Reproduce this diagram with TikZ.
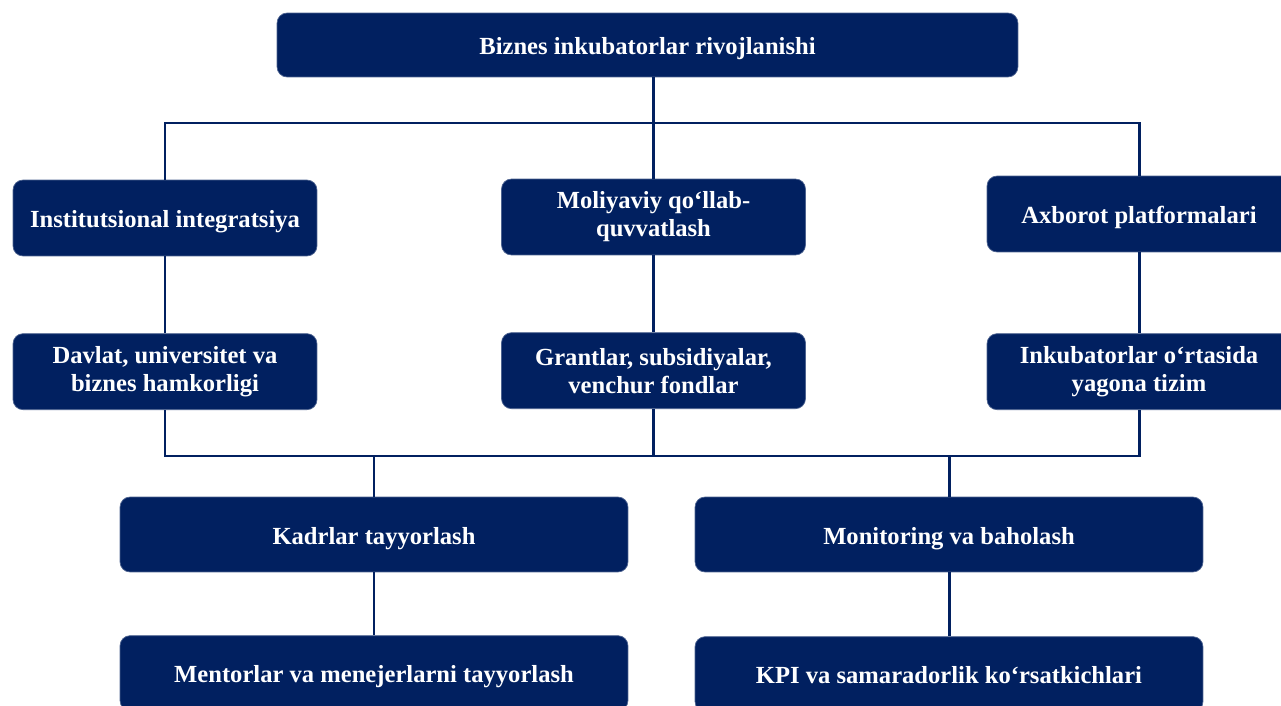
\documentclass[tikz,border=0pt]{standalone}
\usepackage{fontspec}
\setmainfont{Liberation Serif}
\usetikzlibrary{positioning}
\definecolor{navy}{RGB}{1,32,96}

\begin{document}
\begin{tikzpicture}[x=0.02cm,y=-0.02cm,
    box/.style={draw=navy!70,fill=navy,text=white,rounded corners=0.2cm,align=center,
      font=\bfseries\fontsize{14}{16}\selectfont,inner sep=0pt,minimum height=1.52cm},
    one/.style={text height=11pt,text depth=0pt},
    small/.style={box,minimum width=6.08cm},
    wide/.style={box,one,minimum width=10.16cm,minimum height=1.5cm},
    link/.style={draw=navy,line width=1.7pt}]
  \useasboundingbox (0,0) rectangle (1281,706);
  \clip (0,0) rectangle (1281,706);
	  \node (top) [box,one,minimum width=14.82cm,minimum height=1.28cm] at (647.5,45) {Biznes inkubatorlar rivojlanishi};
	  \node (inst) [small,one] at (165,218) {Institutsional integratsiya};
	  \node (mol) [small] at (653.5,217) {Moliyaviy qo‘llab-\\quvvatlash};
	  \node (axb) [small,one] at (1139,214) {Axborot platformalari};
	  \node (dav) [small,below=1.54cm of inst] {Davlat, universitet va\\biznes hamkorligi};
	  \node (grant) [small,below=1.54cm of mol] {Grantlar, subsidiyalar,\\venchur fondlar};
	  \node (inkub) [small,below=1.62cm of axb] {Inkubatorlar o‘rtasida\\yagona tizim};
	  \node (kadr) [wide] at (374,534.5) {Kadrlar tayyorlash};
	  \node (monit) [wide] at (949,534.5) {Monitoring va baholash};
	  \node (ment) [wide,below=1.26cm of kadr] {Mentorlar va menejerlarni tayyorlash};
	  \node (kpi) [wide,below=1.28cm of monit] {KPI va samaradorlik ko‘rsatkichlari};
	  \coordinate (bus1) at (653.5,123);
	  \coordinate (bus2) at (653.5,456);
	  \draw [link] (top.south -| mol) -- (mol.north);
	  \draw [link] (inst.north) -- (inst.north |- bus1) -- (axb.north |- bus1) -- (axb.north);
	  \draw [link] (inst) -- (dav);
	  \draw [link] (mol) -- (grant);
	  \draw [link] (axb) -- (inkub);
	  \draw [link] (dav.south) -- (dav.south |- bus2) -- (inkub.south |- bus2) -- (inkub.south);
	  \draw [link] (grant.south) -- (grant.south |- bus2);
	  \draw [link] (kadr.north |- bus2) -- (kadr.north);
	  \draw [link] (monit.north |- bus2) -- (monit.north);
	  \draw [link] (kadr) -- (ment);
	  \draw [link] (monit) -- (kpi);
	\end{tikzpicture}
\end{document}
